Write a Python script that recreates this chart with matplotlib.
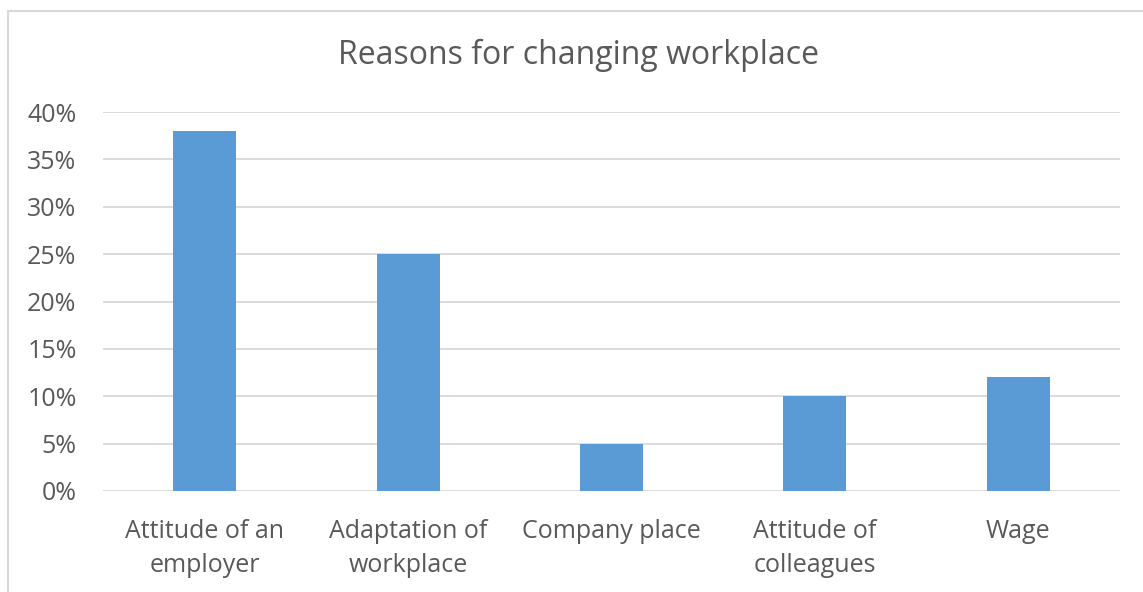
import matplotlib
matplotlib.use("Agg")
import matplotlib.pyplot as plt
from matplotlib.patches import Rectangle
from matplotlib.ticker import FuncFormatter

categories = ["Attitude of an\nemployer", "Adaptation of\nworkplace", "Company place",
              "Attitude of\ncolleagues", "Wage"]
values = [0.38, 0.25, 0.05, 0.10, 0.12]
yticks = [0, 0.05, 0.10, 0.15, 0.20, 0.25, 0.30, 0.35, 0.40]
title = "Reasons for changing workplace"

plt.rcParams['font.family'] = ['Open Sans', 'DejaVu Sans']
W, H = 1143, 592
fig = plt.figure(figsize=(W/100, H/100), dpi=100)
fig.patch.set_facecolor("white")

# chart border
fig.patches.append(Rectangle((8/W, -0.1), 1.2, 1 - 11/H + 0.1, transform=fig.transFigure,
                             fill=False, edgecolor="#d9d9d9", linewidth=1.5))

ax = fig.add_axes([103/W, 1 - 491/H, (1120-103)/W, (491-112)/H])
x = range(len(categories))
ax.bar(x, values, width=0.31, color="#5B9BD5", zorder=3)
ax.set_xlim(-0.5, len(categories) - 0.5)
ax.set_ylim(0, 0.40)
ax.set_yticks(yticks)
ax.yaxis.set_major_formatter(FuncFormatter(lambda v, p: f"{round(v*100)}%"))
ax.set_xticks(list(x))
ax.set_xticklabels(categories, linespacing=1.5)
ax.grid(axis="y", color="#d9d9d9", linewidth=1.3, zorder=0)
for s in ax.spines.values():
    s.set_visible(False)
ax.tick_params(axis="both", length=0, labelsize=18, colors="#595959")
ax.tick_params(axis="x", pad=20)
ax.tick_params(axis="y", pad=19)
for lbl in ax.get_xticklabels() + ax.get_yticklabels():
    lbl.set_color("#595959")

fig.text(578/W, 1 - 55/H, title, ha="center", va="center", fontsize=23, color="#595959")

fig.savefig("out.png", dpi=100, facecolor="white")
